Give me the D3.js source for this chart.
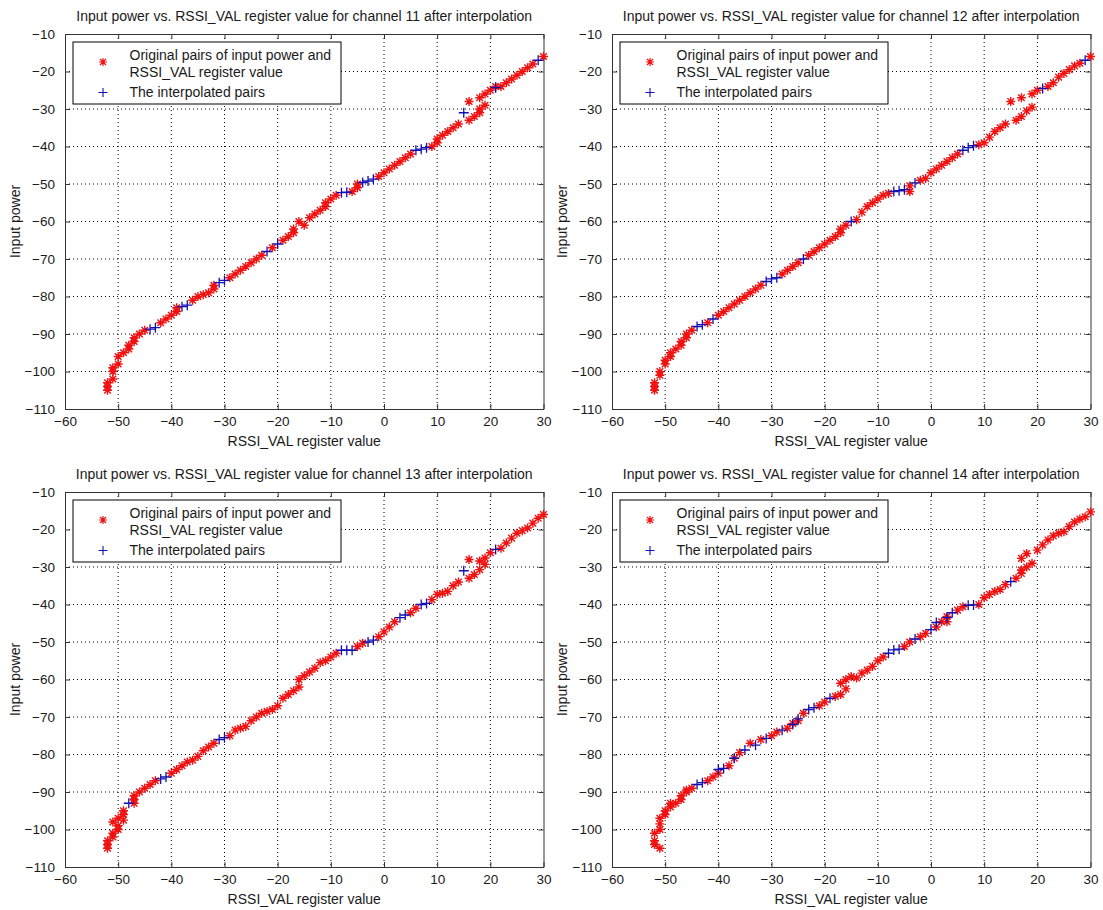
<!DOCTYPE html>
<html><head><meta charset="utf-8">
<script src="https://cdn.jsdelivr.net/npm/d3@7"></script>
<style>
body{margin:0;background:#fff}
text{font-family:Arial,"Liberation Sans",sans-serif;fill:#1a1a1a}
</style>
</head><body>
<svg id="c" width="1103" height="910"></svg>
<script>
const channels = [11, 12, 13, 14];
const xTicks = [-60, -50, -40, -30, -20, -10, 0, 10, 20, 30];
const yTicks = [-110, -100, -90, -80, -70, -60, -50, -40, -30, -20, -10];
const xLabel = "RSSI_VAL register value";
const yLabel = "Input power";
const legendLabels = ["Original pairs of input power and", "RSSI_VAL register value", "The interpolated pairs"];

const orig11 = [[-52,-105],[-52,-104],[-52,-103],[-51,-102],[-51,-100],[-51,-99],[-50,-98],[-50,-96],[-49,-95],[-48,-94],[-48,-93],[-47,-92],[-47,-91],[-46,-90],[-45,-89],[-42,-87],[-41,-86],[-40,-85],[-39,-84],[-39,-83],[-36,-81],[-35,-80],[-34,-79.5],[-33,-79],[-32,-78],[-32,-77],[-29,-75],[-28,-74],[-27,-73],[-26,-72],[-25,-71],[-24,-70],[-23,-69],[-21,-67],[-19,-65],[-18,-64],[-17,-63],[-17,-62],[-16,-60],[-15,-61],[-14,-59],[-13,-58],[-12,-57],[-11,-56],[-11,-55],[-10,-54],[-9,-53],[-6,-52],[-5,-51],[-5,-50],[-1,-48],[0,-47],[1,-46],[2,-45],[3,-44],[4,-43],[5,-42],[9,-40],[10,-39],[10,-38],[11,-37],[12,-36],[13,-35],[14,-34],[16,-33],[17,-32],[18,-31],[18,-30],[19,-29],[16,-28],[18,-27],[19,-26],[20,-25],[21,-24],[22,-24],[23,-23],[24,-22],[25,-21],[26,-20],[27,-19],[28,-18],[30,-16]];
const interp11 = [[-44,-88.7],[-43,-88.3],[-38,-82.7],[-37,-82.3],[-31,-76.3],[-30,-75.7],[-22,-68],[-20,-66],[-8,-52.3],[-7,-52.2],[-4,-49.6],[-3,-49.2],[-2,-48.7],[6,-41],[7,-40.7],[8,-40.3],[15,-31],[21,-24.3],[29,-17]];

const orig12 = [[-52,-105],[-52,-104],[-52,-103],[-51,-101],[-51,-100],[-50,-98],[-50,-97],[-49,-96],[-49,-95],[-48,-94],[-47,-93],[-47,-92],[-46,-91],[-46,-90],[-45,-89],[-42,-87],[-40,-85],[-39,-84],[-38,-83],[-37,-82],[-36,-81],[-35,-80],[-34,-79],[-33,-78],[-32,-77],[-28,-74],[-27,-73],[-26,-72],[-25,-71],[-23,-69],[-22,-68],[-21,-67],[-20,-66],[-19,-65],[-18,-64],[-17,-63],[-17,-62],[-16,-61],[-14,-59.5],[-13,-57.5],[-12,-56],[-11,-55],[-10,-54],[-9,-53],[-8,-52.5],[-4,-52],[-4,-50.5],[-2,-49],[-1,-48.5],[0,-47],[1,-46],[2,-45],[3,-44],[4,-43],[5,-42],[9,-39.5],[10,-39],[11,-37.5],[12,-36],[13,-35],[14,-34],[16,-33],[17,-32],[18,-30.5],[19,-29.5],[15,-28],[17,-27],[19,-26],[20,-25],[22,-24],[23,-23],[24,-21.5],[25,-20.5],[26,-19.5],[27,-18.5],[28,-17.8],[30,-16]];
const interp12 = [[-44,-88],[-43,-87.5],[-41,-86],[-31,-76],[-30,-75.3],[-29,-75],[-24,-70],[-15,-60],[-7,-52],[-6,-51.8],[-5,-51.5],[-3,-49.7],[6,-41],[7,-40.3],[8,-39.8],[21,-24.5],[29,-17]];

const orig13 = [[-52,-105],[-52,-104],[-52,-103],[-51,-102],[-51,-101],[-50,-100],[-50,-99],[-51,-98],[-49,-97.5],[-50,-97],[-49,-96],[-49,-95],[-47,-93],[-47,-92],[-47,-91],[-46,-90],[-45,-89],[-44,-88],[-43,-87],[-40,-85],[-39,-84],[-38,-83],[-37,-82],[-36,-81.5],[-35,-80.5],[-34,-79],[-33,-78],[-32,-77],[-29,-75],[-28,-73.5],[-27,-73],[-26,-72.5],[-25,-71],[-24,-70],[-23,-69],[-22,-68.5],[-21,-68],[-20,-67],[-19,-65],[-18,-64],[-17,-63],[-16,-62],[-16,-60],[-15,-59],[-14,-58],[-13,-57],[-12,-55.5],[-11,-55],[-10,-54],[-9,-53],[-5,-51.2],[-4,-50.3],[-1,-48.6],[0,-47.3],[1,-46],[2,-44.6],[5,-42.2],[6,-41],[9,-38.7],[10,-37.3],[11,-37],[12,-36.5],[13,-35],[14,-34],[16,-33],[17,-32],[18,-30.7],[19,-29.3],[16,-28],[18,-28.4],[19,-27.6],[20,-26.2],[22,-25],[23,-23.6],[24,-22.3],[25,-21],[26,-20.3],[27,-19.6],[28,-18.3],[29,-17],[30,-16]];
const interp13 = [[-48,-93],[-42,-86.5],[-41,-86],[-31,-76],[-30,-75.5],[-8,-52.2],[-7,-52.2],[-6,-52.2],[-3,-50],[-2,-49.5],[3,-43.5],[4,-42.8],[7,-40],[8,-39.7],[15,-31],[21,-25.3]];

const orig14 = [[-52,-104],[-51,-105],[-52,-103],[-52,-101],[-51,-100],[-51,-98.5],[-51,-97],[-50,-96],[-50,-95],[-49,-94],[-49,-93],[-48,-93],[-47,-92],[-47,-91],[-46,-90],[-46,-89.5],[-45,-89],[-42,-87],[-41,-86],[-40,-85],[-38,-83],[-37,-81],[-36,-79.5],[-34,-77],[-32,-76],[-30,-75],[-29,-74],[-27,-73],[-26,-71.7],[-25,-71],[-24,-69],[-21,-67],[-20,-66],[-18,-64.5],[-17,-64],[-16,-62.5],[-17,-61],[-16,-60],[-15,-59.2],[-14,-59.6],[-13,-58.3],[-12,-57.5],[-11,-56.5],[-10,-55],[-9,-54],[-5,-51.2],[-4,-50],[-2,-48.6],[-1,-47.7],[1,-46],[2,-44.6],[3,-43.2],[3,-44.6],[5,-41.5],[6,-40.6],[9,-40],[10,-38.2],[11,-37.3],[12,-36.5],[13,-36],[14,-34.7],[16,-33],[17,-31.7],[17,-30.8],[18,-30],[19,-29],[17,-27.7],[18,-26.4],[20,-25.5],[21,-24.1],[22,-22.8],[23,-21.7],[24,-21],[25,-20.6],[26,-19.2],[27,-18],[28,-17.2],[29,-16.6],[30,-15.3]];
const interp14 = [[-44,-88],[-43,-87.5],[-40,-84],[-39,-83.7],[-37,-81],[-35,-78.8],[-33,-77.5],[-31,-75.7],[-28,-73.5],[-26,-72],[-25,-70.5],[-23,-68],[-22,-67.5],[-19,-65],[-8,-53],[-7,-52.1],[-6,-51.9],[-3,-49.2],[0,-46.7],[1,-44.8],[3,-43.5],[4,-42.2],[7,-40.2],[8,-40.1],[15,-33.9]];

const origSets = [orig11, orig12, orig13, orig14];
const interpSets = [interp11, interp12, interp13, interp14];

const svg = d3.select("#c");
const W = 478.5, H = 375;
const panels = [
  {left: 65, top: 34},
  {left: 612, top: 34},
  {left: 65, top: 492},
  {left: 612, top: 492}
];
const starPath = "M-4.5,0H4.5M0,-4.5V4.5M-3.3,-3.3L3.3,3.3M-3.3,3.3L3.3,-3.3";
const plusPath = "M-5,0H5M0,-5V5";
const legStar = "M-4,0H4M0,-4V4M-3,-3L3,3M-3,3L3,-3";
const legPlus = "M-4.5,0H4.5M0,-4.5V4.5";
const axisColor = "#333";
const red = "#f01010", blue = "#1010b4";

channels.forEach((ch, i) => {
  const p = panels[i];
  const g = svg.append("g").attr("transform", `translate(${p.left},${p.top})`);
  const x = d3.scaleLinear().domain([-60, 30]).range([0, W]);
  const y = d3.scaleLinear().domain([-110, -10]).range([H, 0]);

  // grid
  g.append("g").selectAll("line").data(xTicks.slice(1, -1)).join("line")
    .attr("x1", d => x(d)).attr("x2", d => x(d)).attr("y1", 0).attr("y2", H)
    .attr("stroke", "#000").attr("stroke-width", 1).attr("stroke-dasharray", "1,3");
  g.append("g").selectAll("line").data(yTicks.slice(1, -1)).join("line")
    .attr("y1", d => y(d)).attr("y2", d => y(d)).attr("x1", 0).attr("x2", W)
    .attr("stroke", "#000").attr("stroke-width", 1).attr("stroke-dasharray", "1,3");

  // axes
  const fs = "13.5px";
  const ax = [
    g.append("g").attr("transform", `translate(0,${H})`).call(d3.axisBottom(x).tickValues(xTicks).tickSize(-5).tickSizeOuter(0).tickPadding(7)),
    g.append("g").call(d3.axisLeft(y).tickValues(yTicks).tickSize(-5).tickSizeOuter(0).tickPadding(10)),
    g.append("g").call(d3.axisTop(x).tickValues(xTicks).tickSize(-5).tickSizeOuter(0).tickFormat("")),
    g.append("g").attr("transform", `translate(${W},0)`).call(d3.axisRight(y).tickValues(yTicks).tickSize(-5).tickSizeOuter(0).tickFormat(""))
  ];
  ax.forEach(a => {
    a.select(".domain").attr("stroke", axisColor);
    a.selectAll(".tick line").attr("stroke", axisColor);
    a.selectAll(".tick text").attr("font-size", fs).attr("fill", "#1a1a1a")
      .attr("font-family", 'Arial,"Liberation Sans",sans-serif');
  });

  // data
  g.append("g").selectAll("path").data(origSets[i]).join("path")
    .attr("d", starPath).attr("transform", d => `translate(${x(d[0])},${y(d[1])})`)
    .attr("stroke", red).attr("stroke-width", 1.4).attr("fill", "none");
  g.append("g").selectAll("path").data(interpSets[i]).join("path")
    .attr("d", plusPath).attr("transform", d => `translate(${x(d[0])},${y(d[1])})`)
    .attr("stroke", blue).attr("stroke-width", 1.3).attr("fill", "none");

  // title and labels
  g.append("text").attr("x", W / 2).attr("y", -13).attr("text-anchor", "middle")
    .attr("font-size", "14px").text(`Input power vs. RSSI_VAL register value for channel ${ch} after interpolation`);
  g.append("text").attr("x", W / 2).attr("y", H + 37).attr("text-anchor", "middle")
    .attr("font-size", "14px").text(xLabel);
  g.append("text").attr("transform", `translate(-45,${H / 2}) rotate(-90)`).attr("text-anchor", "middle")
    .attr("font-size", "14px").text(yLabel);

  // legend
  const lg = g.append("g").attr("transform", "translate(8,8)");
  lg.append("rect").attr("x", 0).attr("y", 0).attr("width", 268).attr("height", 62)
    .attr("fill", "#fff").attr("stroke", "#000").attr("stroke-width", 1);
  lg.append("path").attr("d", legStar).attr("transform", "translate(30,20)")
    .attr("stroke", red).attr("stroke-width", 1.2).attr("fill", "none");
  lg.append("path").attr("d", legPlus).attr("transform", "translate(30,50.5)")
    .attr("stroke", blue).attr("stroke-width", 1.1).attr("fill", "none");
  const ty = [18, 35, 55];
  legendLabels.forEach((t, k) => {
    lg.append("text").attr("x", 56.5).attr("y", ty[k]).attr("font-size", "14px").text(t);
  });
});
</script>
</body></html>
